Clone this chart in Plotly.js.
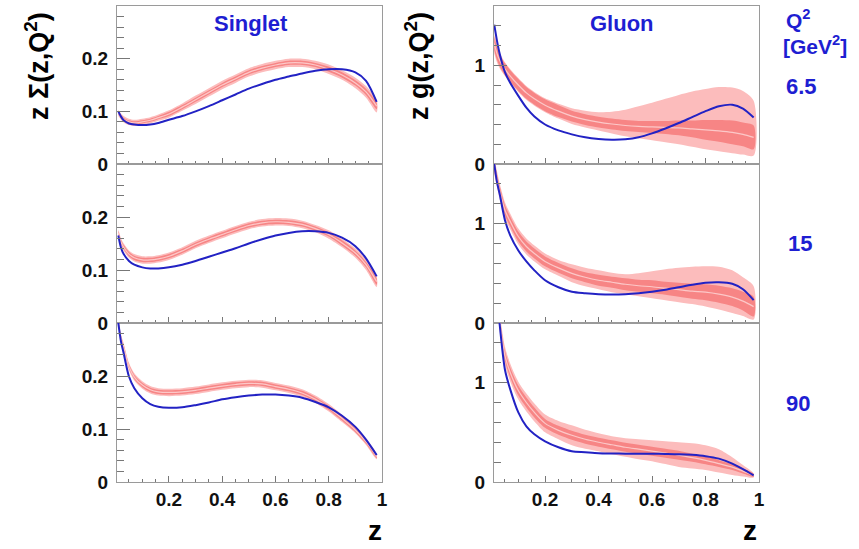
<!DOCTYPE html>
<html><head><meta charset="utf-8">
<script src="https://cdn.plot.ly/plotly-3.0.1.min.js"></script>
<style>html,body{margin:0;padding:0;background:#fff}#c{width:859px;height:549px}</style>
</head><body><div id="c"></div>
<script>
// common z grid
const Z = [0.01,0.02,0.03,0.05,0.07,0.1,0.13,0.16,0.2,0.25,0.3,0.35,0.4,0.45,0.5,0.55,0.6,0.65,0.7,0.75,0.8,0.85,0.9,0.94,0.98];

// Singlet, Q2 = 6.5
const sig65_blue  = [0.100,0.090,0.083,0.077,0.075,0.074,0.075,0.078,0.084,0.091,0.100,0.110,0.121,0.132,0.143,0.152,0.160,0.166,0.172,0.177,0.180,0.180,0.174,0.158,0.118];
const sig65_mid   = [0.097,0.090,0.085,0.080,0.078,0.080,0.083,0.088,0.095,0.108,0.122,0.136,0.150,0.162,0.174,0.182,0.188,0.192,0.192,0.188,0.180,0.169,0.154,0.137,0.110];
const sig65_inner = [0.003,0.003,0.003,0.003,0.003,0.003,0.003,0.003,0.004,0.004,0.004,0.004,0.004,0.004,0.004,0.004,0.004,0.004,0.004,0.004,0.005,0.005,0.005,0.006,0.006];
const sig65_outer = [0.006,0.006,0.006,0.006,0.006,0.006,0.006,0.006,0.007,0.007,0.008,0.008,0.008,0.008,0.008,0.008,0.008,0.008,0.008,0.008,0.009,0.009,0.010,0.011,0.012];

// Singlet, Q2 = 15
const sig15_blue  = [0.165,0.142,0.130,0.117,0.110,0.105,0.103,0.103,0.105,0.110,0.117,0.125,0.133,0.141,0.150,0.158,0.165,0.170,0.173,0.173,0.170,0.161,0.145,0.122,0.088];
const sig15_mid   = [0.170,0.153,0.143,0.130,0.123,0.119,0.119,0.121,0.126,0.136,0.148,0.158,0.167,0.176,0.184,0.189,0.191,0.190,0.186,0.178,0.167,0.151,0.132,0.110,0.078];
const sig15_inner = [0.004,0.004,0.004,0.004,0.004,0.004,0.004,0.004,0.004,0.004,0.004,0.004,0.004,0.004,0.004,0.004,0.004,0.004,0.004,0.004,0.004,0.005,0.005,0.005,0.006];
const sig15_outer = [0.007,0.007,0.007,0.007,0.007,0.007,0.007,0.007,0.007,0.007,0.007,0.007,0.007,0.007,0.007,0.007,0.007,0.007,0.007,0.007,0.008,0.008,0.009,0.010,0.010];

// Singlet, Q2 = 90
const sig90_blue  = [0.300,0.265,0.243,0.199,0.177,0.158,0.147,0.142,0.140,0.141,0.145,0.150,0.156,0.160,0.163,0.165,0.165,0.163,0.159,0.151,0.141,0.125,0.104,0.080,0.051];
const sig90_mid   = [0.300,0.272,0.255,0.218,0.198,0.183,0.174,0.170,0.169,0.170,0.173,0.177,0.181,0.184,0.186,0.185,0.180,0.175,0.168,0.156,0.140,0.120,0.098,0.076,0.048];
const sig90_inner = [0.004,0.004,0.004,0.004,0.004,0.004,0.004,0.004,0.004,0.004,0.004,0.004,0.004,0.004,0.004,0.004,0.004,0.004,0.004,0.004,0.004,0.004,0.004,0.004,0.003];
const sig90_outer = [0.007,0.007,0.007,0.007,0.007,0.007,0.007,0.007,0.007,0.007,0.007,0.007,0.007,0.007,0.007,0.007,0.007,0.007,0.007,0.007,0.007,0.007,0.006,0.006,0.005];

// Gluon, Q2 = 6.5
const glu65_blue    = [1.41,1.25,1.12,0.93,0.82,0.69,0.57,0.48,0.40,0.34,0.30,0.27,0.253,0.246,0.25,0.27,0.31,0.36,0.415,0.475,0.535,0.585,0.60,0.56,0.47];
const glu65_mid     = [1.22,1.12,1.05,0.96,0.89,0.80,0.72,0.66,0.595,0.535,0.485,0.45,0.424,0.405,0.39,0.38,0.375,0.37,0.365,0.355,0.345,0.335,0.32,0.30,0.27];
const glu65_inner   = [0.07,0.065,0.06,0.06,0.06,0.06,0.06,0.06,0.06,0.06,0.055,0.055,0.055,0.055,0.055,0.055,0.06,0.065,0.075,0.085,0.10,0.11,0.12,0.12,0.12];
const glu65_outerHi = [1.32,1.21,1.13,1.03,0.96,0.87,0.79,0.73,0.665,0.61,0.565,0.54,0.525,0.53,0.55,0.585,0.62,0.66,0.70,0.735,0.76,0.78,0.775,0.74,0.64];
const glu65_outerLo = [1.12,1.03,0.97,0.89,0.82,0.73,0.65,0.59,0.525,0.46,0.405,0.37,0.34,0.31,0.28,0.26,0.24,0.22,0.20,0.175,0.15,0.13,0.11,0.095,0.085];

// Gluon, Q2 = 15
const glu15_blue    = [1.60,1.42,1.30,1.035,0.88,0.73,0.62,0.53,0.43,0.36,0.315,0.30,0.29,0.287,0.29,0.30,0.315,0.335,0.36,0.385,0.405,0.41,0.395,0.34,0.23];
const glu15_mid     = [1.58,1.45,1.33,1.135,1.02,0.87,0.77,0.70,0.62,0.555,0.50,0.46,0.43,0.41,0.39,0.375,0.365,0.35,0.335,0.32,0.31,0.29,0.26,0.22,0.165];
const glu15_inner   = [0.05,0.05,0.05,0.05,0.05,0.05,0.05,0.05,0.05,0.05,0.05,0.05,0.055,0.055,0.06,0.06,0.065,0.065,0.07,0.075,0.08,0.085,0.09,0.095,0.10];
const glu15_outerHi = [1.66,1.53,1.41,1.215,1.10,0.95,0.85,0.78,0.70,0.635,0.59,0.555,0.53,0.505,0.49,0.50,0.52,0.54,0.555,0.565,0.57,0.565,0.53,0.46,0.37];
const glu15_outerLo = [1.50,1.37,1.25,1.055,0.94,0.79,0.69,0.62,0.54,0.475,0.41,0.37,0.34,0.31,0.29,0.27,0.25,0.23,0.21,0.19,0.165,0.135,0.10,0.07,0.035];

// Gluon, Q2 = 90
const glu90_blue    = [2.20,1.85,1.59,1.13,0.93,0.70,0.56,0.48,0.41,0.35,0.31,0.30,0.29,0.287,0.285,0.285,0.285,0.283,0.28,0.273,0.26,0.235,0.185,0.13,0.067];
const glu90_mid     = [2.20,1.87,1.62,1.27,1.10,0.92,0.80,0.70,0.59,0.52,0.47,0.43,0.40,0.375,0.35,0.33,0.31,0.29,0.27,0.245,0.218,0.185,0.15,0.11,0.067];
const glu90_inner   = [0.05,0.05,0.05,0.05,0.05,0.05,0.05,0.05,0.045,0.045,0.045,0.045,0.045,0.045,0.045,0.045,0.045,0.045,0.045,0.04,0.04,0.035,0.03,0.025,0.015];
const glu90_outerHi = [2.30,1.96,1.71,1.36,1.19,1.01,0.89,0.79,0.68,0.615,0.57,0.525,0.49,0.46,0.44,0.43,0.42,0.41,0.40,0.39,0.37,0.33,0.25,0.17,0.085];
const glu90_outerLo = [2.10,1.78,1.53,1.18,1.01,0.83,0.71,0.61,0.50,0.43,0.37,0.335,0.31,0.28,0.255,0.23,0.21,0.18,0.15,0.135,0.12,0.095,0.07,0.055,0.045];

// labels
const panelTitles = ["Singlet", "Gluon"];
const q2Labels = ["6.5", "15", "90"];
const sigTickVals = [0, 0.1, 0.2];
const sigTickText = ["0", "0.1", "0.2"];
const gluTickVals = [0, 1];
const gluTickText = ["0", "1"];
const zTickVals = [0.2, 0.4, 0.6, 0.8, 1];
const zTickText = ["0.2", "0.4", "0.6", "0.8", "1"];

// ---------- drawing ----------
const W = 859, H = 549;
const px = x => x / W;
const py = y => 1 - y / H;
const FONT = "Liberation Sans, Arial, Helvetica, sans-serif";
const BLUE_TXT = "#1e1ed2";
const BLUE_LINE = "#2222c4";
const OUTER = "#fcbcbc";
const INNER = "#f78585";
const MIDC = "#fcc8c8";

function polygon(z, lo, hi) {
  return { x: z.concat(z.slice().reverse()), y: hi.concat(lo.slice().reverse()) };
}
const add = (a, b, s) => a.map((v, i) => v + s * b[i]);

const traces = [];
function panel(idx, mid, inner, outerLo, outerHi, blue) {
  const xa = "x" + (idx === 1 ? "" : idx), ya = "y" + (idx === 1 ? "" : idx);
  const po = polygon(Z, outerLo, outerHi);
  traces.push({ x: po.x, y: po.y, xaxis: xa, yaxis: ya, type: "scatter", mode: "lines", fill: "toself",
    fillcolor: OUTER, line: { width: 0, shape: "spline", smoothing: 0.8 }, hoverinfo: "skip" });
  const pi = polygon(Z, add(mid, inner, -1), add(mid, inner, 1));
  traces.push({ x: pi.x, y: pi.y, xaxis: xa, yaxis: ya, type: "scatter", mode: "lines", fill: "toself",
    fillcolor: INNER, line: { width: 0, shape: "spline", smoothing: 0.8 }, hoverinfo: "skip" });
  traces.push({ x: Z, y: mid, xaxis: xa, yaxis: ya, type: "scatter", mode: "lines",
    line: { color: MIDC, width: 1.2, shape: "spline", smoothing: 0.8 } });
  traces.push({ x: Z, y: blue, xaxis: xa, yaxis: ya, type: "scatter", mode: "lines",
    line: { color: BLUE_LINE, width: 2, shape: "spline", smoothing: 0.8 } });
}
panel(1, sig65_mid, sig65_inner, add(sig65_mid, sig65_outer, -1), add(sig65_mid, sig65_outer, 1), sig65_blue);
panel(2, glu65_mid, glu65_inner, glu65_outerLo, glu65_outerHi, glu65_blue);
panel(3, sig15_mid, sig15_inner, add(sig15_mid, sig15_outer, -1), add(sig15_mid, sig15_outer, 1), sig15_blue);
panel(4, glu15_mid, glu15_inner, glu15_outerLo, glu15_outerHi, glu15_blue);
panel(5, sig90_mid, sig90_inner, add(sig90_mid, sig90_outer, -1), add(sig90_mid, sig90_outer, 1), sig90_blue);
panel(6, glu90_mid, glu90_inner, glu90_outerLo, glu90_outerHi, glu90_blue);

const layout = {
  width: W, height: H, showlegend: false,
  margin: { l: 0, r: 0, t: 0, b: 0, pad: 0 },
  paper_bgcolor: "#fff", plot_bgcolor: "#fff",
  font: { family: FONT, color: "#000" },
  annotations: []
};
const rowsY = [[6, 164], [164, 323], [323, 482]];
const colsX = [[117, 382], [494, 759]];
for (let r = 0; r < 3; r++) {
  for (let c = 0; c < 2; c++) {
    const idx = r * 2 + c + 1;
    const suf = idx === 1 ? "" : idx;
    layout["xaxis" + suf] = {
      domain: [px(colsX[c][0]), px(colsX[c][1])],
      range: c === 0 ? [0.005, 1] : [0.009, 1],
      anchor: "y" + suf, showgrid: false, zeroline: false,
      showline: true, mirror: true, linecolor: "#9a9a9a", linewidth: 1,
      ticks: "inside", ticklen: 6, tickcolor: "#777", tickwidth: 1,
      tickmode: "array", tickvals: zTickVals, ticktext: zTickText,
      showticklabels: r === 2,
      tickfont: { size: 19, weight: 700, color: "#111" },
      minor: { ticks: "inside", dtick: 0.05, tick0: 0, ticklen: 3, tickcolor: "#777", showgrid: false },
      fixedrange: true
    };
    layout["yaxis" + suf] = {
      domain: [py(rowsY[r][1]), py(rowsY[r][0])],
      range: c === 0 ? [0, 0.3] : [0, 1.6],
      anchor: "x" + suf, showgrid: false, zeroline: false,
      showline: true, mirror: true, linecolor: "#9a9a9a", linewidth: 1,
      ticks: "inside", ticklen: 13, tickcolor: "#777", tickwidth: 1,
      tickmode: "array",
      tickvals: c === 0 ? sigTickVals : gluTickVals,
      ticktext: c === 0 ? sigTickText : gluTickText,
      tickfont: { size: 19, weight: 700, color: "#111" },
      ticklabelstandoff: 4,
      minor: { ticks: "inside", dtick: c === 0 ? 0.02 : 0.2, tick0: 0, ticklen: 7, tickcolor: "#777", showgrid: false },
      fixedrange: true
    };
  }
}
const ann = layout.annotations;
function text(t, x, y, opts) {
  ann.push(Object.assign({ text: t, x: px(x), y: py(y), xref: "paper", yref: "paper",
    showarrow: false, xanchor: "center", yanchor: "middle",
    font: { family: FONT, size: 22, weight: 700, color: BLUE_TXT } }, opts || {}));
}
text(panelTitles[0], 251, 23);
text(panelTitles[1], 622, 23);
text("Q<sup>2</sup>", 784, 19, { xanchor: "left", font: { family: FONT, size: 21, weight: 700, color: BLUE_TXT } });
text("[GeV<sup>2</sup>]", 781, 45, { xanchor: "left", yanchor: "top", y: py(30), font: { family: FONT, size: 21, weight: 700, color: BLUE_TXT } });
text(q2Labels[0], 784, 87, { xanchor: "left" });
text(q2Labels[1], 800, 243);
text(q2Labels[2], 798, 403);
text("z Σ(z,Q<sup>2</sup>)", 37, 66, { textangle: -90, font: { family: FONT, size: 27, weight: 700, color: "#000" } });
text("z g(z,Q<sup>2</sup>)", 417, 66, { textangle: -90, font: { family: FONT, size: 27, weight: 700, color: "#000" } });
text("z", 375, 548, { yanchor: "bottom", y: py(548), font: { family: FONT, size: 28, weight: 700, color: "#000" } });
text("z", 750, 548, { yanchor: "bottom", y: py(548), font: { family: FONT, size: 28, weight: 700, color: "#000" } });

Plotly.newPlot("c", traces, layout, { staticPlot: true, displayModeBar: false });
</script></body></html>
